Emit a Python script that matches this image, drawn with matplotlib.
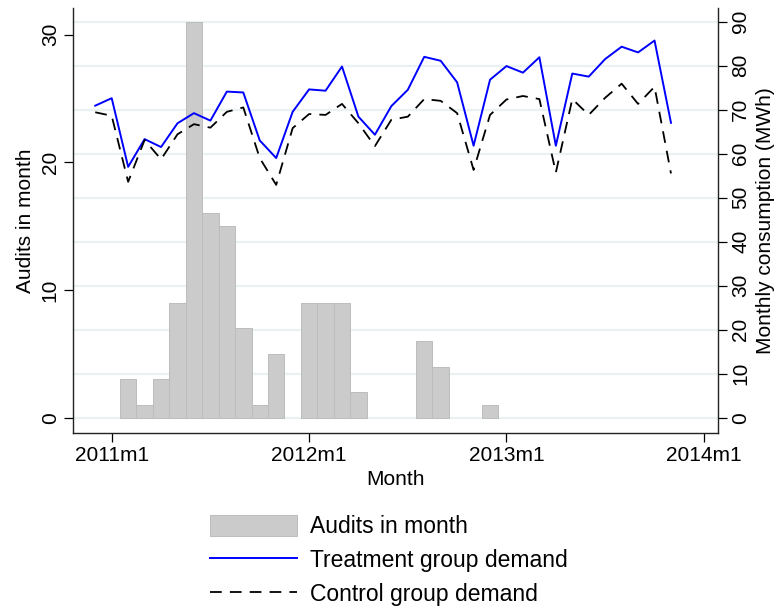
import matplotlib
matplotlib.use("Agg")
import matplotlib.pyplot as plt
from matplotlib.patches import Patch
from matplotlib.lines import Line2D

# months counted from 2011m1 (= 0)
bar_months = list(range(1, 24))
audits = [3, 1, 3, 9, 31, 16, 15, 7, 1, 5, 0, 9, 9, 9, 2, 0, 0, 0, 6, 4, 0, 0, 1]

demand_months = list(range(-1, 35))
treatment = [70.9, 72.6, 57.0, 63.3, 61.5, 66.9, 69.2, 67.5, 74.1, 73.9,
             63.0, 59.0, 69.5, 74.6, 74.3, 79.8, 68.4, 64.3, 70.8, 74.5,
             82.0, 81.1, 76.2, 61.8, 76.8, 79.9, 78.4, 81.9, 61.8, 78.2,
             77.5, 81.5, 84.3, 83.0, 85.7, 67.0]
control = [69.4, 68.6, 53.6, 63.1, 58.7, 64.4, 66.7, 65.9, 69.5, 70.5,
           59.0, 52.9, 65.8, 69.0, 68.8, 71.3, 66.9, 61.7, 67.7, 68.4,
           72.4, 72.0, 69.2, 56.3, 68.8, 72.3, 73.1, 72.4, 55.7, 72.4,
           68.8, 72.7, 75.9, 71.3, 75.2, 55.5]

x_ticks = [0, 12, 24, 36]
x_labels = ["2011m1", "2012m1", "2013m1", "2014m1"]
left_ticks = [0, 10, 20, 30]
right_ticks = list(range(0, 100, 10))

axis_font = ["Liberation Sans", "DejaVu Sans"]
fs = 15
leg_fs = 16.5

fig = plt.figure(figsize=(7.82, 6.09), dpi=100)
rect = [0.0934, 0.2895, 0.8248, 0.6974]

# background grid (right-axis scale)
axg = fig.add_axes(rect)
ax = fig.add_axes(rect, sharex=axg)
ax2 = fig.add_axes(rect, sharex=axg)
axg.set_zorder(0)
ax.set_zorder(1)
ax2.set_zorder(2)
for a in (ax, ax2):
    a.patch.set_visible(False)

xlim = (-2.35, 36.86)
right_lim = (-3.41, 93.1)
left_lim = (-1.17, 32.08)

axg.set_xlim(*xlim)
axg.set_ylim(*right_lim)
for yv in right_ticks:
    axg.axhline(yv, color="#eaf1f3", lw=1.6, zorder=0)
axg.axis("off")

# months with no audits get no bar
nz = [(m, a) for m, a in zip(bar_months, audits) if a > 0]
ax.bar([m for m, a in nz], [a for m, a in nz], width=1.0, color="#cbcbcb",
       edgecolor="#bcbcbc", linewidth=0.7)
ax.set_ylim(*left_lim)
ax.set_yticks(left_ticks)
ax.set_ylabel("Audits in month", fontsize=fs, family=axis_font, labelpad=4)

ax2.plot(demand_months, treatment, color="#0000ff", lw=1.4)
ax2.plot(demand_months, control, color="black", lw=1.3, dashes=(6.5, 4.5))
ax2.set_ylim(*right_lim)
ax2.set_yticks(right_ticks)
ax2.yaxis.tick_right()
ax2.yaxis.set_label_position("right")
ax2.set_ylabel("Monthly consumption (MWh)", fontsize=fs, family=axis_font,
               labelpad=4)
ax2.xaxis.set_visible(False)

ax.set_xlim(*xlim)
ax.set_xticks(x_ticks)
ax.set_xticklabels(x_labels)
ax.set_xlabel("Month", fontsize=fs, family=axis_font, labelpad=4)

for a in (ax, ax2):
    for s in a.spines.values():
        s.set_visible(False)
ax.spines["left"].set_visible(True)
ax.spines["bottom"].set_visible(True)
ax2.spines["right"].set_visible(True)
for s in (ax.spines["left"], ax.spines["bottom"], ax2.spines["right"]):
    s.set_linewidth(1.0)
    s.set_color("#222222")

ax.tick_params(axis="both", length=6.5, width=0.9, labelsize=fs, pad=3)
ax2.tick_params(axis="y", length=6.5, width=0.9, labelsize=fs, pad=3)
for lab in ax.get_yticklabels() + ax2.get_yticklabels():
    lab.set_rotation(90)
    lab.set_va("center")
    lab.set_family(axis_font)
for lab in ax.get_xticklabels():
    lab.set_family(axis_font)

handles = [Patch(facecolor="#cbcbcb", edgecolor="#bcbcbc", lw=0.7),
           Line2D([], [], color="#0000ff", lw=1.4),
           Line2D([], [], color="black", lw=1.3, dashes=(6.5, 4.5))]
labels = ["Audits in month", "Treatment group demand", "Control group demand"]
fig.legend(handles, labels, loc="upper left", bbox_to_anchor=(0.268, 0.155),
           frameon=False, prop={"family": axis_font, "size": leg_fs},
           handlelength=3.8, handleheight=1.05, handletextpad=0.6,
           labelspacing=0.46, borderaxespad=0, borderpad=0)

fig.savefig("out.png", dpi=100)
